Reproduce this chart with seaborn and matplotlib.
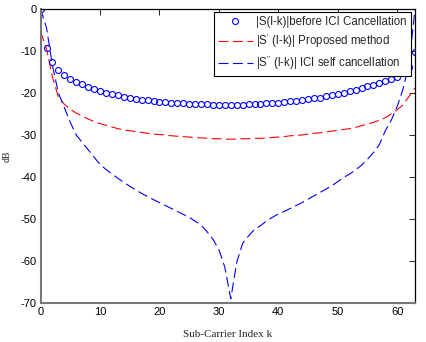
import numpy as np
import pandas as pd
import seaborn as sns
import matplotlib.pyplot as plt
from matplotlib.lines import Line2D

# ======================= Data =======================
k = list(range(64))

before_ici = [0, -9.3, -12.6, -14.5, -15.7, -16.6, -17.3, -17.9, -18.5, -19.0,
              -19.5, -19.9, -20.3, -20.6, -20.9, -21.1, -21.4, -21.6, -21.8, -21.9,
              -22.1, -22.2, -22.3, -22.4, -22.5, -22.6, -22.6, -22.7, -22.7, -22.8,
              -22.8, -22.8, -22.8, -22.8, -22.8, -22.7, -22.7, -22.6, -22.5, -22.4,
              -22.3, -22.2, -22.0, -21.9, -21.7, -21.5, -21.3, -21.1, -20.8, -20.5,
              -20.2, -19.9, -19.6, -19.2, -18.8, -18.4, -18.0, -17.6, -17.1, -16.6,
              -16.1, -15.3, -13.8, -10.3]

proposed = [-5.4, -9.5, -16.2, -21.0, -22.7, -23.9, -24.8, -25.5, -26.2, -26.8,
            -27.3, -27.7, -28.1, -28.5, -28.8, -29.0, -29.2, -29.4, -29.6, -29.8,
            -29.9, -30.0, -30.2, -30.3, -30.4, -30.5, -30.6, -30.7, -30.8, -30.9,
            -30.9, -31.0, -31.0, -31.0, -30.9, -30.9, -30.8, -30.8, -30.7, -30.6,
            -30.5, -30.4, -30.2, -30.1, -30.0, -29.8, -29.6, -29.5, -29.3, -29.1,
            -28.9, -28.7, -28.5, -28.2, -27.8, -27.4, -27.0, -26.5, -25.9, -25.0,
            -24.0, -22.8, -20.8, -18.8]

self_cancel = [0, -4.5, -13.5, -20.0, -23.5, -27.0, -30.0, -31.8, -33.5, -35.3,
               -37.0, -38.2, -39.3, -40.3, -41.3, -42.2, -43.1, -43.9, -44.7, -45.4,
               -46.1, -46.8, -47.5, -48.2, -48.9, -49.6, -50.5, -51.5, -53.0, -54.8,
               -57.3, -61.5, -69.0, -60.3, -55.8, -54.0, -52.5, -51.6, -50.5, -49.6,
               -48.8, -48.2, -47.5, -46.8, -46.1, -45.3, -44.5, -43.7, -42.9, -42.1,
               -41.1, -40.1, -39.3, -38.3, -37.2, -35.8, -34.2, -32.3, -29.0, -26.5,
               -23.2, -19.0, -13.0, 0]

labels = ["|S(l-k)|before ICI Cancellation",
          r"|S$^{\prime}$ (l-k)| Proposed method",
          r"|S$^{\prime\prime}$ (l-k)| ICI self cancellation"]

xticks = [0, 10, 20, 30, 40, 50, 60]
yticks = [0, -10, -20, -30, -40, -50, -60, -70]

df = pd.DataFrame({"k": k, "before": before_ici, "proposed": proposed, "self": self_cancel})

# ======================= Plot =======================
sns.set_style("white")
plt.rcParams['font.family'] = ['Liberation Sans', 'DejaVu Sans']
plt.rcParams['mathtext.fontset'] = 'custom'
plt.rcParams['mathtext.rm'] = 'Liberation Sans'
plt.rcParams['axes.unicode_minus'] = False

fig, ax = plt.subplots(figsize=(4.27, 3.42), dpi=100)
fig.subplots_adjust(left=0.095, right=0.972, bottom=0.114, top=0.974)

sns.lineplot(data=df, x="k", y="proposed", ax=ax, color="red", lw=0.8)
sns.lineplot(data=df, x="k", y="self", ax=ax, color="blue", lw=0.8)
ax.lines[0].set_dashes((9, 4))
ax.lines[1].set_dashes((9, 4))
ax.plot(df["k"], df["before"], ls="none", marker="o", ms=4.3, mfc="none",
        mec="blue", mew=0.8)

ax.set_xlim(0, 63)
ax.set_ylim(-70, 0)
ax.set_xticks(xticks)
ax.set_yticks(yticks)
ax.tick_params(direction="in", length=4, width=0.6, labelsize=8,
               top=True, right=True, pad=3, colors="black")

for side in ["top", "right"]:
    ax.spines[side].set_color("black")
    ax.spines[side].set_linewidth(0.9)
for side in ["left", "bottom"]:
    ax.spines[side].set_color("#777777")
    ax.spines[side].set_linewidth(1.5)

ax.set_xlabel("Sub-Carrier Index k", family="Liberation Serif", fontsize=8, labelpad=9)
ax.set_ylabel("dB", family="Liberation Serif", fontsize=7, labelpad=6)

handles = [
    Line2D([], [], ls="none", marker="o", ms=4.3, mfc="none", mec="blue", mew=0.8),
    Line2D([], [], color="red", lw=0.8, dashes=(9, 4)),
    Line2D([], [], color="blue", lw=0.8, dashes=(9, 4)),
]
leg = ax.legend(handles, labels, loc="upper right", bbox_to_anchor=(0.988, 0.99),
                borderaxespad=0, fontsize=8.3, fancybox=False, framealpha=1,
                edgecolor="black", handlelength=3.0, handletextpad=0.3,
                borderpad=0.35, labelspacing=0.35)
leg.get_frame().set_linewidth(0.8)

plt.savefig("out.png", dpi=100)
